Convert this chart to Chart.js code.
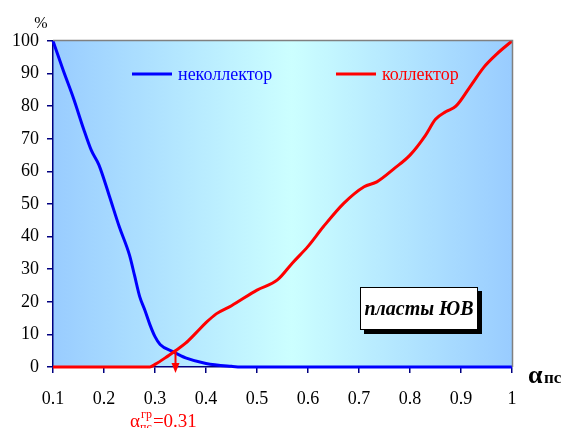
<!DOCTYPE html>
<html><head><meta charset="utf-8">
<script src="https://cdn.jsdelivr.net/npm/chart.js@4/dist/chart.umd.min.js"></script>
<style>html,body{margin:0;padding:0;background:#fff}canvas{display:block}</style>
</head><body>
<canvas id="c" width="568" height="428"></canvas>
<script>
// ---- data ----
const seriesNames = ['неколлектор', 'коллектор'];
const nonCollectorX = [0.10,0.12,0.14,0.16,0.175,0.19,0.21,0.23,0.25,0.26,0.27,0.28,0.29,0.30,0.31,0.335,0.36,0.40,0.45,0.47,0.60,0.80,1.00];
const nonCollectorY = [100,91,82.5,73,66.5,62,52.7,43,34.3,28,21.6,17.5,13,9.3,6.9,4.7,2.8,1.1,0.2,0,0,0,0];
const collectorX = [0.10,0.20,0.29,0.30,0.32,0.34,0.36,0.38,0.40,0.42,0.45,0.50,0.54,0.57,0.60,0.63,0.67,0.71,0.735,0.77,0.80,0.83,0.85,0.87,0.89,0.92,0.945,0.97,1.00];
const collectorY = [0,0,0,0.8,2.8,5,7.3,10.4,13.6,16.3,18.8,23.6,26.7,32,37,43,50.2,55.3,56.8,61,65,71,76,78.3,80,86.5,92,96,100];
const xTickLabels = ['0.1','0.2','0.3','0.4','0.5','0.6','0.7','0.8','0.9','1'];
const yTickLabels = ['0','10','20','30','40','50','60','70','80','90','100'];
const boundaryX = 0.34;      // where the arrow points
const boundaryY = 4.7;       // crossing of the curves
const boundaryValue = '0.31';
const boxText = 'пласты ЮВ';
const yUnit = '%';

const SERIF = '"Liberation Serif", "Times New Roman", serif';

const bgPlugin = {
  id: 'bg',
  beforeDraw(chart) {
    const {ctx, chartArea: a} = chart;
    const g = ctx.createLinearGradient(a.left, 0, a.right, 0);
    g.addColorStop(0, '#99CCFF');
    g.addColorStop(0.52, '#CCFFFF');
    g.addColorStop(1, '#99CCFF');
    ctx.save();
    ctx.fillStyle = g;
    ctx.fillRect(a.left, a.top, a.right - a.left, a.bottom - a.top);
    ctx.restore();
  }
};

const overlayPlugin = {
  id: 'overlay',
  afterDraw(chart) {
    const {ctx, chartArea: a, scales} = chart;
    ctx.save();
    // plot-area frame (top & right)
    ctx.strokeStyle = '#808080';
    ctx.lineWidth = 1.5;
    ctx.beginPath();
    ctx.moveTo(a.left, a.top - 0.5);
    ctx.lineTo(a.right + 0.5, a.top - 0.5);
    ctx.lineTo(a.right + 0.5, a.bottom);
    ctx.stroke();

    // legend inside plot
    const legX = [a.left + 79, a.left + 283];
    const legY = a.top + 33;
    chart.data.datasets.forEach((ds, i) => {
      ctx.strokeStyle = ds.borderColor;
      ctx.lineWidth = 3;
      ctx.beginPath();
      ctx.moveTo(legX[i], legY);
      ctx.lineTo(legX[i] + 40, legY);
      ctx.stroke();
      ctx.fillStyle = ds.borderColor;
      ctx.font = '18px ' + SERIF;
      ctx.textBaseline = 'middle';
      ctx.textAlign = 'left';
      ctx.fillText(ds.label, legX[i] + 46, legY + 1);
    });

    // text box
    const bx = 360, by = 287, bw = 118, bh = 43;
    ctx.fillStyle = '#000';
    ctx.fillRect(bx + 4, by + 4, bw, bh);
    ctx.fillStyle = '#fff';
    ctx.fillRect(bx, by, bw, bh);
    ctx.strokeStyle = '#000';
    ctx.lineWidth = 1;
    ctx.strokeRect(bx + 0.5, by + 0.5, bw - 1, bh - 1);
    ctx.fillStyle = '#000';
    ctx.font = 'italic bold 20px ' + SERIF;
    ctx.textAlign = 'center';
    ctx.textBaseline = 'middle';
    ctx.fillText(boxText, bx + bw / 2, by + bh / 2 + 1);

    // arrow at boundary
    const px = Math.round(scales.x.getPixelForValue(boundaryX)) + 0.5;
    const py = scales.y.getPixelForValue(boundaryY);
    ctx.strokeStyle = '#FF0000';
    ctx.fillStyle = '#FF0000';
    ctx.lineWidth = 2;
    ctx.beginPath();
    ctx.moveTo(px, py);
    ctx.lineTo(px, a.bottom - 2);
    ctx.stroke();
    ctx.beginPath();
    ctx.moveTo(px - 4, a.bottom - 4);
    ctx.lineTo(px + 4, a.bottom - 4);
    ctx.lineTo(px, a.bottom + 6);
    ctx.closePath();
    ctx.fill();

    // boundary label  α_пс^гр=0.31
    ctx.textAlign = 'left';
    ctx.textBaseline = 'alphabetic';
    let tx = 130; const base = 427;
    ctx.font = '19px ' + SERIF;
    ctx.fillText('α', tx, base); tx += ctx.measureText('α').width;
    ctx.font = '12px ' + SERIF;
    ctx.fillText('пс', tx, base + 4);
    const wsub = ctx.measureText('пс').width;
    ctx.fillText('гр', tx + 1, base - 9);
    tx += Math.max(wsub, ctx.measureText('гр').width + 1) + 1;
    ctx.font = '19px ' + SERIF;
    ctx.fillText('=' + boundaryValue, tx, base);

    // axis title α пс
    ctx.fillStyle = '#000';
    ctx.font = 'bold 26px ' + SERIF;
    ctx.fillText('α', 528, 383);
    ctx.font = 'bold 17px ' + SERIF;
    ctx.fillText('пс', 544, 383);

    // y unit
    ctx.font = '16px ' + SERIF;
    ctx.textAlign = 'center';
    ctx.fillText(yUnit, 41, 28);
    ctx.restore();
  }
};

const mk = (xs, ys) => xs.map((x, i) => ({x, y: ys[i]}));

new Chart(document.getElementById('c').getContext('2d'), {
  type: 'line',
  data: {
    datasets: [
      {label: seriesNames[0], data: mk(nonCollectorX, nonCollectorY), borderColor: '#0000FF',
       borderWidth: 3, pointRadius: 0, cubicInterpolationMode: 'monotone', clip: false, order: 1},
      {label: seriesNames[1], data: mk(collectorX, collectorY), borderColor: '#FF0000',
       borderWidth: 3, pointRadius: 0, cubicInterpolationMode: 'monotone', clip: false, order: 0}
    ]
  },
  options: {
    responsive: false, animation: false, devicePixelRatio: 1,
    layout: {padding: {left: 0, top: 41, right: 56, bottom: 0}},
    plugins: {legend: {display: false}, tooltip: {enabled: false}},
    scales: {
      x: {
        type: 'linear', min: 0.1, max: 1,
        ticks: {stepSize: 0.1, autoSkip: false, maxRotation: 0, color: '#000', padding: 15,
                font: {family: SERIF, size: 18},
                callback: v => xTickLabels[Math.round((v - 0.1) * 10)]},
        grid: {drawOnChartArea: false, drawTicks: true, tickLength: 6, color: '#000080', lineWidth: 1.5},
        border: {display: true, color: '#000080', width: 1.5},
        afterFit(s) { s.height = 61; }
      },
      y: {
        min: 0, max: 100,
        ticks: {stepSize: 10, color: '#000', padding: 8, font: {family: SERIF, size: 18},
                callback: v => yTickLabels[Math.round(v / 10)]},
        grid: {drawOnChartArea: false, drawTicks: true, tickLength: 6, color: '#000080', lineWidth: 1.5},
        border: {display: true, color: '#000080', width: 1.5},
        afterFit(s) { s.width = 53; }
      }
    }
  },
  plugins: [bgPlugin, overlayPlugin]
});
</script>
</body></html>
